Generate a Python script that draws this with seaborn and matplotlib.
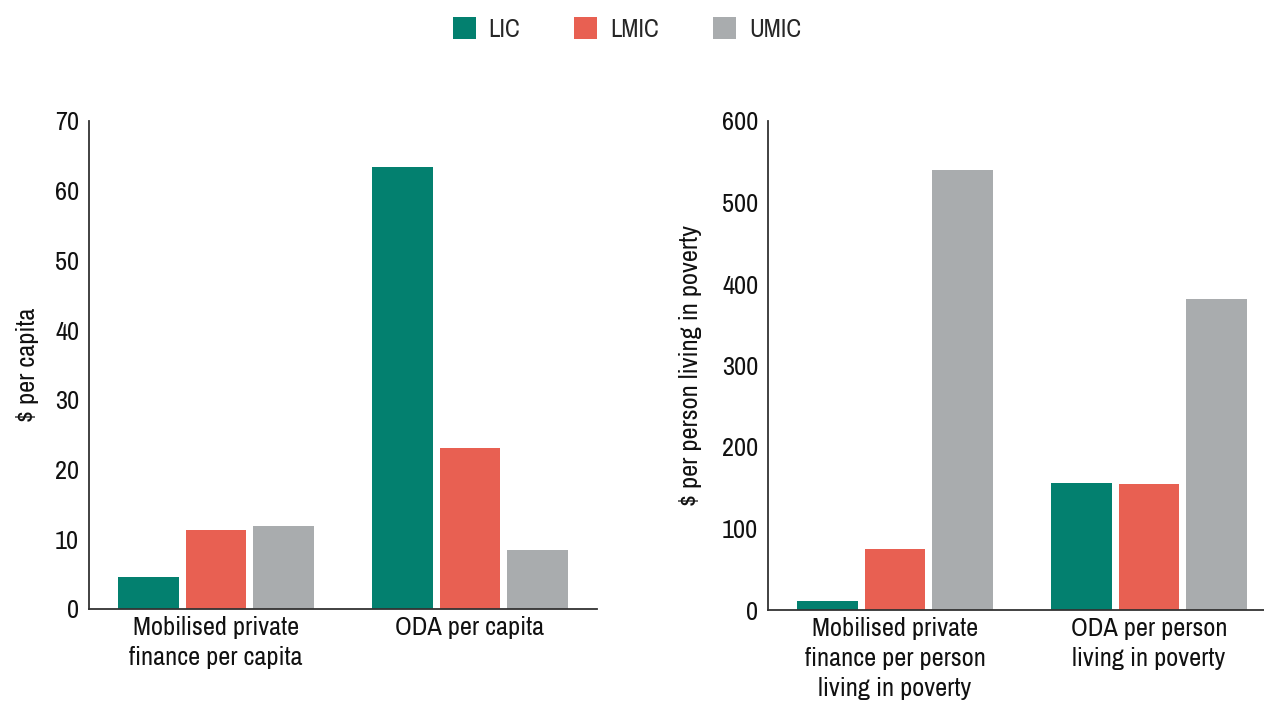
import matplotlib
matplotlib.use("Agg")
import matplotlib.pyplot as plt
import seaborn as sns
import pandas as pd
from matplotlib.patches import Patch
from matplotlib import font_manager

groups = ["LIC", "LMIC", "UMIC"]
left_categories = ["Mobilised private\nfinance per capita", "ODA per capita"]
left_lic = [4.6, 63.4]
left_lmic = [11.3, 23.1]
left_umic = [11.9, 8.5]
right_categories = ["Mobilised private\nfinance per person\nliving in poverty",
                    "ODA per person\nliving in poverty"]
right_lic = [11, 156]
right_lmic = [75, 155]
right_umic = [540, 382]
left_ticks = [0, 10, 20, 30, 40, 50, 60, 70]
right_ticks = [0, 100, 200, 300, 400, 500, 600]
colors = ["#03806F", "#E86052", "#A9ACAE"]

sns.set_theme(style="white")
# prefer a condensed sans if one happens to be installed
cond = None
for f in font_manager.fontManager.ttflist:
    n = f.name
    if ("Condensed" in n or "Narrow" in n) and "Mono" not in n and "Serif" not in n:
        cond = n
        break
fam = cond if cond else "Liberation Sans"
plt.rcParams["font.family"] = [fam, "DejaVu Sans"]
fs = 19 if cond else 15
lfs = 18 if cond else 15

def frame(cats, a, b, c):
    rows = []
    for i, cat in enumerate(cats):
        for g, v in zip(groups, (a[i], b[i], c[i])):
            rows.append({"cat": cat, "group": g, "value": v})
    return pd.DataFrame(rows)

fig = plt.figure(figsize=(12.64, 7.04), dpi=100)
ax1 = fig.add_axes([89/1264, 1-609/704, 508/1264, 488/704])
ax2 = fig.add_axes([768/1264, 1-610/704, 508/1264, 489/704])

for ax, df, ticks, ylabel, lp in [
    (ax1, frame(left_categories, left_lic, left_lmic, left_umic), left_ticks, "$ per capita", 11.5),
    (ax2, frame(right_categories, right_lic, right_lmic, right_umic), right_ticks, "$ per person living in poverty", 14.5),
]:
    sns.barplot(data=df, x="cat", y="value", hue="group", hue_order=groups,
                palette=colors, ax=ax, width=0.8, gap=0.1, legend=False,
                saturation=1, linewidth=0)
    ax.set_ylim(ticks[0], ticks[-1])
    ax.set_yticks(ticks)
    ax.set_xlim(-0.5, 1.5)
    ax.set_xlabel("")
    ax.set_ylabel(ylabel, fontsize=fs, color="#111111", labelpad=lp)
    ax.tick_params(axis="both", length=0, labelsize=fs, colors="#111111", pad=7)
    ax.tick_params(axis="x", pad=5)
    for lbl in ax.get_xticklabels():
        lbl.set_linespacing(1.38)
    for s in ["top", "right"]:
        ax.spines[s].set_visible(False)
    for s in ["left", "bottom"]:
        ax.spines[s].set_color("#333333")
        ax.spines[s].set_linewidth(1.3)

handles = [Patch(facecolor=c, edgecolor="none", label=g) for g, c in zip(groups, colors)]
fig.legend(handles=handles, loc="center", bbox_to_anchor=(627/1264, 1-29/704), ncol=3,
           frameon=False, fontsize=lfs, handlelength=0.92, handleheight=0.92,
           handletextpad=0.52, columnspacing=2.16)

fig.savefig("out.png", dpi=100)
